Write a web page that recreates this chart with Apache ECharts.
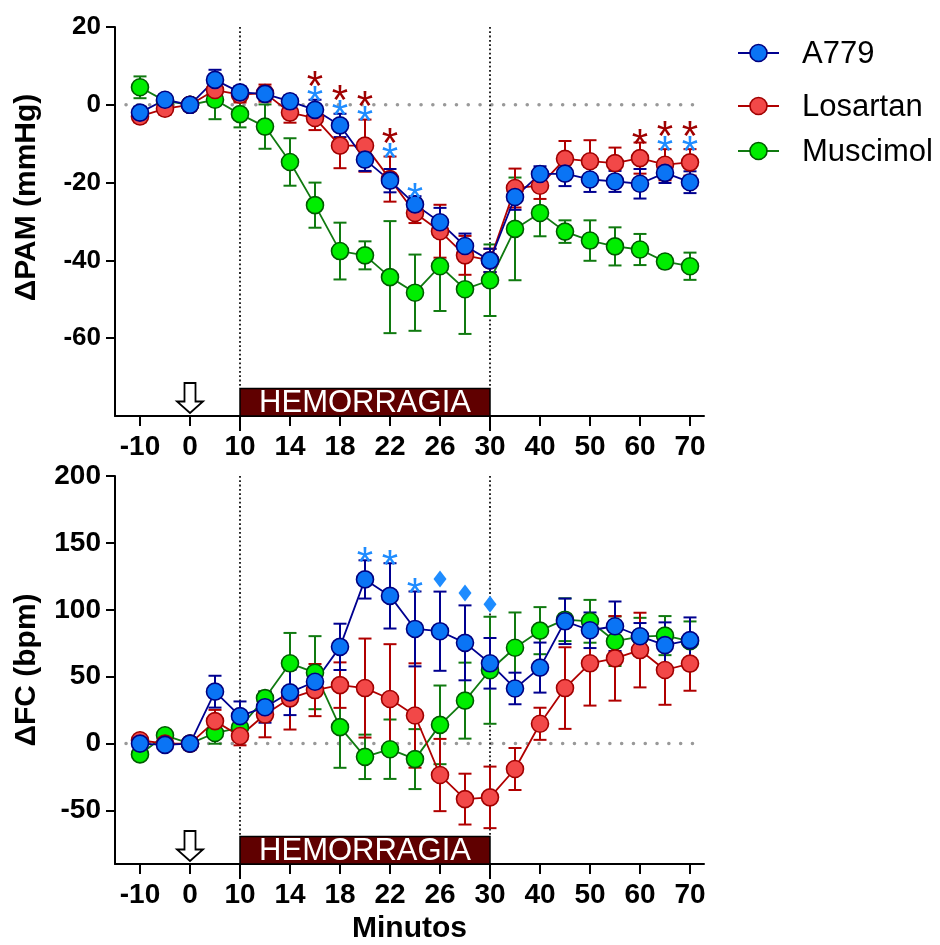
<!DOCTYPE html>
<html><head><meta charset="utf-8">
<script src="https://cdn.jsdelivr.net/npm/echarts@6/dist/echarts.min.js"></script>
<style>html,body{margin:0;padding:0;background:#fff}#c{width:940px;height:945px}</style>
</head><body><div id="c"></div>
<script>
// ---- categories (minutes) ----
const minutes = ['-10','-5','0','5','10','12','14','16','18','20','22','24','26','28','30','35','40','45','50','55','60','65','70'];
const tickIdx = [0,2,4,6,8,10,12,14,16,18,20,22];
const seriesNames = ['A779','Losartan','Muscimol'];

// ---- ΔPAM (mmHg) ----
const pamA779    = [-2.0, 1.3, 0, 6.4, 3.2, 2.8, 0.9, -1.3, -5.3, -14.1, -19.5, -25.6, -30.2, -36.3, -40.0, -23.7, -17.8, -17.7, -19.2, -19.7, -20.3, -17.5, -19.9];
const pamA779Err = [1.5, 1.2, 0, 2.6, 1.5, 1.5, 1.5, 2.6, 3.0, 2.9, 3.0, 2.1, 3.7, 3.2, 3.0, 3.3, 2.0, 3.2, 3.2, 2.7, 3.8, 2.6, 2.8];
const pamLos     = [-3.0, -1.0, 0, 3.8, 2.6, 3.0, -2.0, -3.4, -10.5, -10.5, -19.1, -27.8, -32.5, -38.7, -40.0, -21.4, -20.8, -13.9, -14.5, -15.0, -13.7, -15.4, -14.8];
const pamLosErr  = [1.5, 1.5, 0, 2.0, 2.0, 2.2, 2.6, 3.1, 5.8, 6.7, 5.8, 2.6, 6.8, 5.0, 3.0, 5.0, 3.4, 4.6, 5.4, 4.0, 4.0, 4.0, 3.4];
const pamMus     = [4.5, 1.0, 0, 1.3, -2.4, -5.6, -14.7, -25.8, -37.6, -38.7, -44.3, -48.3, -41.5, -47.4, -45.1, -31.9, -27.8, -32.6, -34.9, -36.4, -37.2, -40.3, -41.5];
const pamMusErr  = [2.8, 1.0, 0, 5.0, 3.4, 5.7, 6.1, 5.8, 7.3, 3.6, 14.4, 9.8, 11.5, 11.5, 9.2, 13.2, 6.0, 2.9, 5.2, 4.9, 4.0, 1.5, 3.5];
const pamSigLos  = [7, 8, 9, 10, 20, 21, 22];
const pamSigA779 = [7, 8, 9, 10, 11, 21, 22];

// ---- ΔFC (bpm) ----
const fcA779    = [0, -1, 0, 38.8, 20.5, 27.2, 38.3, 46.2, 72.3, 122.7, 110.4, 85.7, 84.0, 75.3, 60.0, 41.2, 56.8, 91.4, 84.7, 87.7, 80.2, 73.6, 77.3];
const fcA779Err = [3, 2, 0, 11.9, 11, 11.6, 17, 8, 17.3, 14.3, 24.4, 28, 29.6, 28, 18.9, 11.8, 18.7, 17, 13.3, 18.5, 9.9, 17, 17];
const fcLos     = [2.5, 0, 0, 16.8, 5.7, 21.7, 33.8, 40.0, 43.7, 41.5, 33.3, 21.0, -23.5, -41.5, -40.2, -19.0, 14.8, 41.5, 60.0, 63.7, 69.9, 55.0, 59.8];
const fcLosErr  = [2, 1, 0, 8.4, 7, 17, 23.3, 19.5, 17, 37, 41, 39, 27, 19, 23, 15.7, 12, 30.5, 31.6, 31.6, 27.9, 26, 20.3];
const fcMus     = [-8.1, 6.2, 0, 7.9, 12, 34, 60, 53, 12.3, -9.9, -4.2, -11.6, 14.0, 32.1, 54.8, 71.6, 84.4, 92.6, 91.4, 76.5, 80.0, 80.7, 76.5];
const fcMusErr  = [2, 2, 0, 8, 5, 5, 22.7, 27.3, 30.4, 16.6, 22.2, 22.4, 29.4, 28.4, 40, 26.4, 17.6, 16, 16, 18.5, 14, 14.6, 14.8];
const fcSigStar    = [9, 10, 11];
const fcSigDiamond = [12, 13, 14];

// ---- axis ticks ----
const pamTicks = [-60, -40, -20, 0, 20];
const fcTicks  = [-50, 0, 50, 100, 150, 200];

const hemoStart = minutes.indexOf('10');
const hemoEnd   = minutes.indexOf('30');
const arrowAt   = minutes.indexOf('0');

const FONT = "'Liberation Sans', Arial, Helvetica, sans-serif";
const sty = {
  A779:     {fill:'#0a74f5', border:'#000080', line:'#000090'},
  Losartan: {fill:'#f24848', border:'#a00000', line:'#b00000'},
  Muscimol: {fill:'#00ee00', border:'#005a00', line:'#107a10'}
};
const STAR_RED = '#a00000', STAR_BLUE = '#1e8cff';

const chart = echarts.init(document.getElementById('c'));

function errSeries(g, means, errs, color){
  return {type:'custom', xAxisIndex:g, yAxisIndex:g, z:2, silent:true,
    data: means.map((m,i)=>[i,m,errs[i]]),
    renderItem(params, api){
      const x=api.value(0), m=api.value(1), e=api.value(2);
      if(!e) return null;
      const t=api.coord([x,m+e]), b=api.coord([x,m-e]); const cw=6.5;
      const s={stroke:color,lineWidth:2};
      return {type:'group', children:[
        {type:'line', shape:{x1:t[0],y1:t[1],x2:b[0],y2:b[1]}, style:s},
        {type:'line', shape:{x1:t[0]-cw,y1:t[1],x2:t[0]+cw,y2:t[1]}, style:s},
        {type:'line', shape:{x1:b[0]-cw,y1:b[1],x2:b[0]+cw,y2:b[1]}, style:s}
      ]};
    }};
}
function lineSeries(g, name, means){
  const c = sty[name];
  return {type:'line', name, xAxisIndex:g, yAxisIndex:g, z:3,
    data: means.map((m,i)=>[i,m]), symbol:'circle', symbolSize:17,
    itemStyle:{color:c.fill, borderColor:c.border, borderWidth:1.6},
    lineStyle:{color:c.line, width:1.8}, emphasis:{disabled:true}, animation:false};
}
function decorSeries(g){
  return {type:'custom', xAxisIndex:g, yAxisIndex:g, z:1, silent:true,
    data:[[hemoStart, hemoEnd, arrowAt]],
    renderItem(params, api){
      const cs = params.coordSys;
      const bottom = cs.y + cs.height, top = cs.y;
      const x1 = api.coord([api.value(0), 0])[0], x2 = api.coord([api.value(1), 0])[0];
      const ax = api.coord([api.value(2), 0])[0];
      const y0 = api.coord([0, 0])[1];
      const barH = 27.5;
      const ch = [];
      ch.push({type:'line', shape:{x1:cs.x+11, y1:y0, x2:cs.x+cs.width-2, y2:y0},
        style:{stroke:'#999', lineWidth:3.5, lineDash:[0.1, 11.7], lineCap:'round'}});
      [x1, x2].forEach(x => {
        ch.push({type:'line', shape:{x1:x, y1:top, x2:x, y2:bottom-barH},
          style:{stroke:'#111', lineWidth:1.8, lineDash:[1.8, 2.5]}});
        ch.push({type:'line', shape:{x1:x, y1:bottom, x2:x, y2:bottom+15},
          style:{stroke:'#000', lineWidth:2}});
      });
      ch.push({type:'rect', shape:{x:x1, y:bottom-barH, width:x2-x1, height:barH},
        style:{fill:'#600000', stroke:'#000', lineWidth:1.5}});
      ch.push({type:'text', x:(x1+x2)/2, y:bottom-barH/2+1.5,
        style:{text:'HEMORRAGIA', fill:'#fff', fontSize:31, fontFamily:FONT, align:'center', verticalAlign:'middle'}});
      const tip = bottom-3, hb = bottom-14.5, st = bottom-33;
      ch.push({type:'polygon', shape:{points:[[ax-5.5,st],[ax+5.5,st],[ax+5.5,hb],[ax+13,hb],[ax,tip],[ax-13,hb],[ax-5.5,hb]]},
        style:{fill:'#fff', stroke:'#000', lineWidth:1.8}});
      return {type:'group', children:ch};
    }};
}
function sigSeries(g, list, tops, slotFn, color, kind){
  return {type:'custom', xAxisIndex:g, yAxisIndex:g, z:4, silent:true,
    data: list.map(i=>[i, tops[i], slotFn(i)]),
    renderItem(params, api){
      const p = api.coord([api.value(0), api.value(1)]);
      const yc = p[1] - 8 - api.value(2)*15;
      if(kind==='diamond'){
        return {type:'polygon', shape:{points:[[p[0],yc-13],[p[0]+6.5,yc-4.5],[p[0],yc+4],[p[0]-6.5,yc-4.5]]}, style:{fill:color}};
      }
      return {type:'text', x:p[0], y:yc+12, style:{text:'*', fill:color, fontSize:42, fontFamily:FONT, align:'center', verticalAlign:'middle'}};
    }};
}
function maxUpper(groupsArr){
  return minutes.map((_,i)=>Math.max(...groupsArr.map(([m,e])=>m[i]+e[i])));
}
const pamTop = maxUpper([[pamA779,pamA779Err],[pamLos,pamLosErr],[pamMus,pamMusErr]]);
const fcTop  = maxUpper([[fcA779,fcA779Err],[fcLos,fcLosErr],[fcMus,fcMusErr]]);

const axisLine = {show:true, onZero:false, lineStyle:{color:'#000', width:2}};
function xAx(g, withName){
  return {type:'value', gridIndex:g, min:-1, max:22.56,
    axisLine, axisTick:{show:true, length:10, customValues:tickIdx, lineStyle:{color:'#000',width:2}},
    axisLabel:{customValues:tickIdx, formatter:v=>minutes[v], margin:17, fontSize:28, fontWeight:'bold', color:'#000', fontFamily:FONT},
    splitLine:{show:false},
    name: withName ? 'Minutos' : '', nameLocation:'middle', nameGap:50,
    nameTextStyle:{fontSize:30, fontWeight:'bold', color:'#000', fontFamily:FONT}};
}
function yAx(g, min, max, ticks, name, fs, pad){
  return {type:'value', gridIndex:g, min, max,
    axisLine, axisTick:{show:true, length:9, customValues:ticks, lineStyle:{color:'#000',width:2}},
    axisLabel:{customValues:ticks, margin:14, fontSize:fs, fontWeight:'bold', color:'#000', fontFamily:FONT},
    splitLine:{show:false},
    name, nameLocation:'middle', nameGap:73, nameRotate:90,
    nameTextStyle:{fontSize:30, fontWeight:'bold', color:'#000', fontFamily:FONT, padding:pad}};
}

const legendY = [53, 106, 151];
const legendGraphics = [];
seriesNames.forEach((n,k)=>{
  const c = sty[n], y = legendY[k];
  legendGraphics.push({type:'line', shape:{x1:738,y1:y,x2:779,y2:y}, style:{stroke:c.line, lineWidth:2}});
  legendGraphics.push({type:'circle', shape:{cx:758.5, cy:y, r:8.5}, style:{fill:c.fill, stroke:c.border, lineWidth:1.6}});
  legendGraphics.push({type:'text', x:802, y:y+1, style:{text:n, fontSize:31, fontFamily:FONT, fill:'#000', verticalAlign:'middle'}});
});

const option = {
  animation:false,
  backgroundColor:'#fff',
  grid:[{left:115, top:27, width:589, height:389}, {left:115, top:476, width:589, height:390}],
  xAxis:[xAx(0,false), xAx(1,true)],
  yAxis:[yAx(0,-80,20,pamTicks,'ΔPAM (mmHg)',26,[0,0,0,48]), yAx(1,-90,200,fcTicks,'ΔFC (bpm)',28,[0,0,0,0])],
  graphic: legendGraphics,
  series:[
    decorSeries(0), decorSeries(1),
    errSeries(0, pamMus, pamMusErr, sty.Muscimol.line), lineSeries(0,'Muscimol',pamMus),
    errSeries(0, pamLos, pamLosErr, sty.Losartan.line), lineSeries(0,'Losartan',pamLos),
    errSeries(0, pamA779, pamA779Err, sty.A779.line), lineSeries(0,'A779',pamA779),
    errSeries(1, fcMus, fcMusErr, sty.Muscimol.line), lineSeries(1,'Muscimol',fcMus),
    errSeries(1, fcLos, fcLosErr, sty.Losartan.line), lineSeries(1,'Losartan',fcLos),
    errSeries(1, fcA779, fcA779Err, sty.A779.line), lineSeries(1,'A779',fcA779),
    sigSeries(0, pamSigA779, pamTop, i=>0, STAR_BLUE, 'star'),
    sigSeries(0, pamSigLos, pamTop, i=>pamSigA779.includes(i)?1:0, STAR_RED, 'star'),
    sigSeries(1, fcSigStar, fcTop, i=>0, STAR_BLUE, 'star'),
    sigSeries(1, fcSigDiamond, fcTop, i=>0, STAR_BLUE, 'diamond')
  ]
};
chart.setOption(option);
</script></body></html>
